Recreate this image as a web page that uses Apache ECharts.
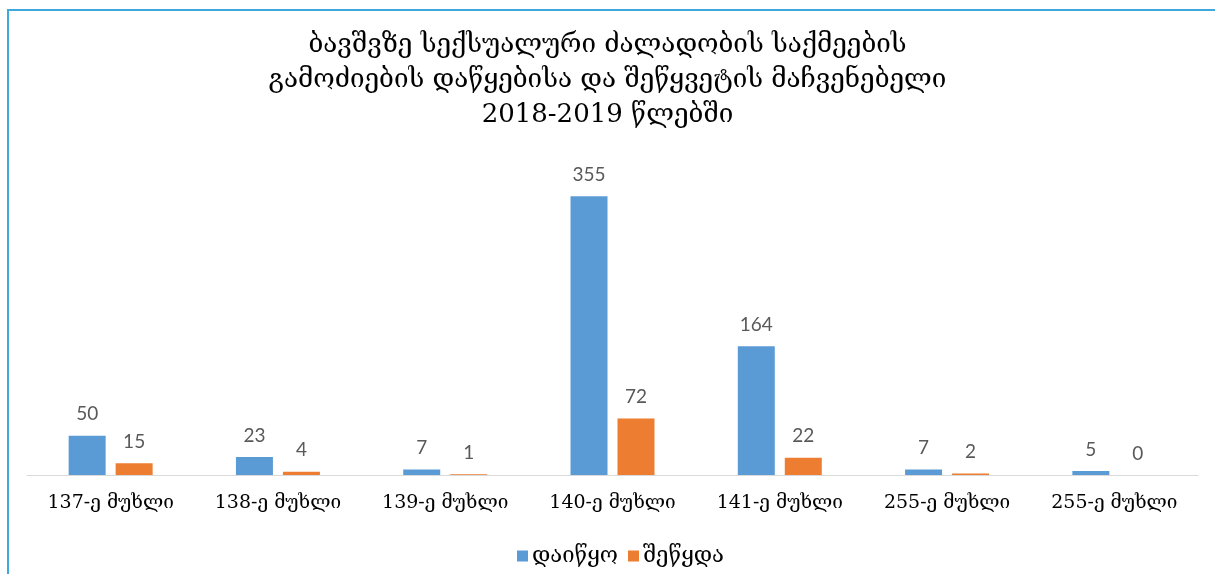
<!DOCTYPE html>
<html>
<head>
<meta charset="utf-8">
<script src="https://cdn.jsdelivr.net/npm/echarts@6/dist/echarts.min.js"></script>
<style>
html,body{margin:0;padding:0;background:#fff;}
#chart{width:1215px;height:574px;}
</style>
</head>
<body>
<div id="chart"></div>
<script>
const titleText = "ბავშვზე სექსუალური ძალადობის საქმეების\nგამოძიების დაწყებისა და შეწყვეტის მაჩვენებელი\n2018-2019 წლებში";
const categories = ["137-ე მუხლი","138-ე მუხლი","139-ე მუხლი","140-ე მუხლი","141-ე მუხლი","255-ე მუხლი","255-ე მუხლი"];
const seriesNames = ["დაიწყო","შეწყდა"];
const started = [50, 23, 7, 355, 164, 7, 5];
const terminated = [15, 4, 1, 72, 22, 2, 0];

const chart = echarts.init(document.getElementById('chart'));
const labelStyle = {show:true, position:'top', distance:12, color:'#595959', fontFamily:'Lato', fontSize:19};
chart.setOption({
  animation:false,
  color:['#5B9BD5','#ED7D31'],
  graphic:[{
    type:'rect', silent:true,
    shape:{x:8,y:10,width:1400,height:800},
    style:{fill:null, stroke:'#3FA9DE', lineWidth:2}
  }],
  title:{
    text:titleText, left:'center', top:23,
    textStyle:{fontFamily:'DejaVu Serif', fontSize:26, fontWeight:'normal', color:'#000', lineHeight:35}
  },
  legend:{
    data:seriesNames, bottom:2, left:512,
    itemWidth:11, itemHeight:11, itemGap:10, icon:'rect',
    textStyle:{fontFamily:'DejaVu Serif', fontSize:22, color:'#000', padding:[0,0,0,-1]}
  },
  grid:{left:27, right:17, top:161, bottom:99, containLabel:false},
  xAxis:{
    type:'category', data:categories,
    axisLine:{lineStyle:{color:'#D9D9D9', width:1}},
    axisTick:{show:false},
    axisLabel:{color:'#000', fontFamily:'DejaVu Serif', fontSize:19, margin:19, interval:0}
  },
  yAxis:{type:'value', min:0, max:400, show:false, splitLine:{show:false}},
  series:[
    {name:seriesNames[0], type:'bar', data:started, barWidth:37, barGap:'27%', label:labelStyle},
    {name:seriesNames[1], type:'bar', data:terminated, barWidth:37, barGap:'27%', label:labelStyle}
  ]
});
</script>
</body>
</html>
